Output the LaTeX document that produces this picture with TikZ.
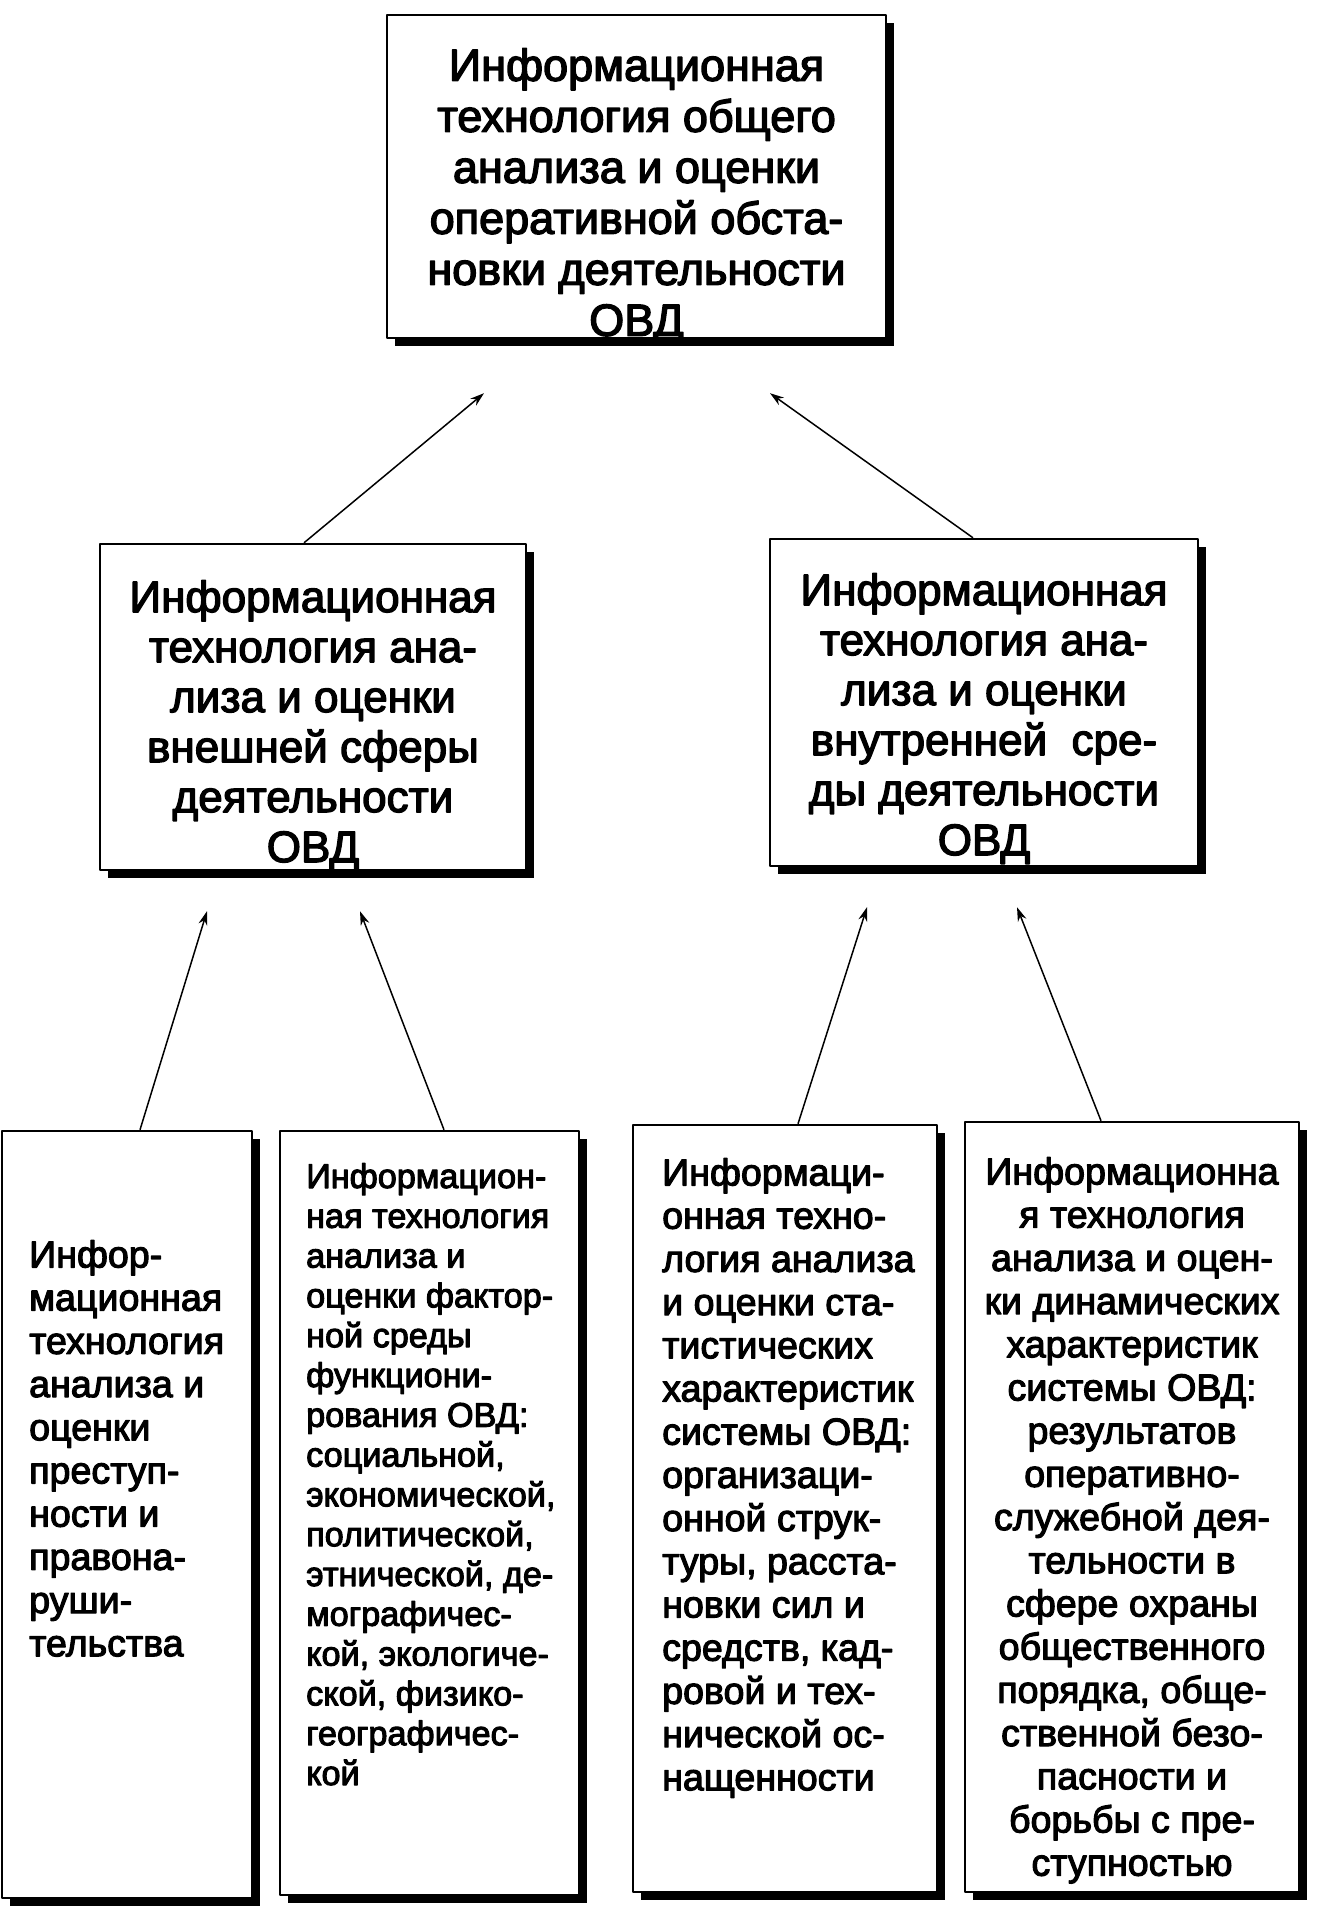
\documentclass[tikz,border=0pt]{standalone}
\usepackage{fontspec}
\newfontfamily\scanfont{Liberation Sans}[BoldFont={Liberation Sans},BoldFeatures={FakeBold=3}]
\usetikzlibrary{positioning,calc,shadows,arrows.meta}
\begin{document}
\begin{tikzpicture}[x=0.5pt,y=-0.5pt,line join=round,>={Stealth[length=7pt,width=4.5pt]},
    box/.style={draw,line width=1.2pt,fill=white,inner sep=0pt,
      drop shadow={shadow xshift=4pt,shadow yshift=-4pt,fill=black,opacity=1}},
    bigtxt/.style={inner sep=0pt,align=center,font=\scanfont\bfseries\fontsize{22.5}{25.5}\selectfont},
    midtxt/.style={bigtxt,font=\scanfont\bfseries\fontsize{22}{25}\selectfont},
    smalltxt/.style={inner sep=0pt,font=\scanfont\bfseries\fontsize{18.8}{21.6}\selectfont},
    link/.style={->,line width=0.75pt}]
    \useasboundingbox (0,0) rectangle (1326,1910);
    \node[box,minimum width=249.5pt,minimum height=161.5pt] (top) at (636.5,176.5) {};
    \node[box,minimum width=213pt,minimum height=163pt] (ml) at (313,707) {};
    \node[box,minimum width=214pt,minimum height=163.5pt] (mr) at (984,702.5) {};
    \node[box,minimum width=125pt,minimum height=383.5pt] (b1) at (127,1514.5) {};
    \node[box,minimum width=149.5pt,minimum height=382pt] (b2) at (429.5,1513) {};
    \node[box,minimum width=152pt,minimum height=383.5pt] (b3) at (785,1508.5) {};
    \node[box,minimum width=167pt,minimum height=385pt] (b4) at (1132,1507) {};
    \node[bigtxt,below=17pt of top.north] (toptxt) {Информационная\\технология общего\\анализа и оценки\\оперативной обста-\\новки деятельности\\ОВД};
    \node[midtxt,below=18.5pt of ml.north] (mltxt) {Информационная\\технология ана-\\лиза и оценки\\внешней сферы\\деятельности\\ОВД};
    \node[midtxt,below=17.5pt of mr.north] (mrtxt) {Информационная\\технология ана-\\лиза и оценки\\внутренней\ \ сре-\\ды деятельности\\ОВД};
    \node[smalltxt,align=left,anchor=north west] (b1txt) at ($(b1.north west)+(28,110)$) {Инфор-\\мационная\\технология\\анализа и\\оценки\\преступ-\\ности и\\правона-\\руши-\\тельства};
    \node[smalltxt,font=\scanfont\bfseries\fontsize{17.1}{19.9}\selectfont,align=left,anchor=north west] (b2txt) at ($(b2.north west)+(27,33)$) {Информацион-\\ная технология\\анализа и\\оценки фактор-\\ной среды\\функциони-\\рования ОВД:\\социальной,\\экономической,\\политической,\\этнической, де-\\мографичес-\\кой, экологиче-\\ской, физико-\\географичес-\\кой};
    \node[smalltxt,align=left,anchor=north west] (b3txt) at ($(b3.north west)+(30,34)$) {Информаци-\\онная техно-\\логия анализа\\и оценки ста-\\тистических\\характеристик\\системы ОВД:\\организаци-\\онной струк-\\туры, расста-\\новки сил и\\средств, кад-\\ровой и тех-\\нической ос-\\нащенности};
    \node[smalltxt,align=center,below=18pt of b4.north] (b4txt) {Информационна\\я технология\\анализа и оцен-\\ки динамических\\характеристик\\системы ОВД:\\результатов\\оперативно-\\служебной дея-\\тельности в\\сфере охраны\\общественного\\порядка, обще-\\ственной безо-\\пасности и\\борьбы с пре-\\ступностью};
    \draw[link] ($(ml.north)+(-9,0)$) -- ($(top.south)+(-152.5,54)$);
    \draw[link] ($(mr.north)+(-11,0)$) -- ($(top.south)+(133.5,54)$);
    \draw[link] ($(b1.north)+(13,0)$) -- ($(ml.south)+(-106,40)$);
    \draw[link] ($(b2.north)+(14.5,0)$) -- ($(ml.south)+(47,40)$);
    \draw[link] ($(b3.north)+(13,0)$) -- ($(mr.south)+(-117,40)$);
    \draw[link] ($(b4.north)+(-31,0)$) -- ($(mr.south)+(33,40)$);
\end{tikzpicture}
\end{document}
